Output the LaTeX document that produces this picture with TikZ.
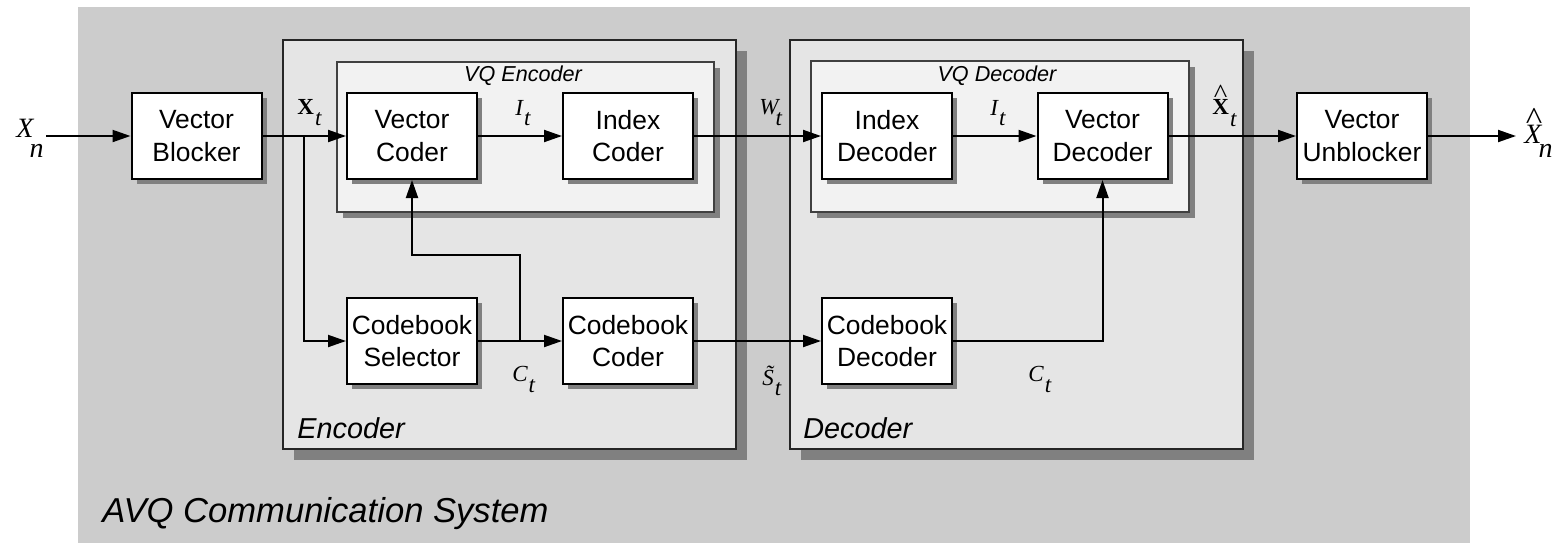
\documentclass[tikz,border=0pt]{standalone}
\usepackage{fontspec}
\usepackage{graphicx}
\setmainfont{Liberation Serif}
\setsansfont{Liberation Sans}
\usetikzlibrary{arrows.meta,shadows}

\definecolor{bgsys}{HTML}{CCCCCC}
\definecolor{bgpart}{HTML}{E5E5E5}
\definecolor{bgvq}{HTML}{F2F2F2}
\definecolor{shade}{HTML}{808080}

% symbol with a lowered subscript of full size; optional kern before the subscript
\newcommand{\symsub}[4][0.5pt]{#2\kern#1\raisebox{-#4}{\normalfont\itshape #3}}
% tall hat centred over a letter; optional horizontal shift of the hat
\newcommand{\tallhat}[2][0pt]{\ooalign{#2\cr\hidewidth\kern#1\raisebox{0.5em}{\scalebox{1.25}[1.15]{\normalfont\textasciicircum}}\hidewidth\cr}}

\tikzset{
  blockbox/.style={draw=black, line width=1pt, fill=white,
    minimum width=65pt, minimum height=43pt, inner sep=0pt, align=center,
    font=\sffamily\fontsize{13.2}{16.2}\selectfont,
    drop shadow={shadow xshift=2.5pt, shadow yshift=-2.5pt, fill=shade, opacity=1}},
  partbox/.style={draw=black!85, line width=0.6pt, fill=bgpart, inner sep=0pt,
    drop shadow={shadow xshift=5.5pt, shadow yshift=-5.5pt, fill=shade, opacity=1}},
  vqbox/.style={draw=black!75, line width=0.6pt, fill=bgvq, inner sep=0pt,
    drop shadow={shadow xshift=3pt, shadow yshift=-3pt, fill=shade, opacity=1}},
  wire/.style={line width=1pt, -{Triangle[length=9pt,width=6pt]}},
  sig/.style={inner sep=0pt, anchor=base west, font=\fontsize{11.5}{12}\selectfont},
  bigsig/.style={inner sep=0pt, anchor=base west, font=\fontsize{14}{15}\selectfont},
  vqtitle/.style={inner sep=0pt, font=\sffamily\itshape\fontsize{10.8}{12}\selectfont},
  parttitle/.style={inner sep=0pt, anchor=base west, font=\sffamily\itshape\fontsize{14.4}{16}\selectfont},
}

\begin{document}
\begin{tikzpicture}[x=0.5pt, y=-0.5pt]
\useasboundingbox (0,0) rectangle (1558,543);

% overall system area
\fill[bgsys] (78,7) rectangle (1470,543);
\node[inner sep=0pt, anchor=base west, font=\sffamily\itshape\fontsize{17.3}{19}\selectfont]
  (systitle) at (102,522) {AVQ Communication System};

% encoder and decoder parts
\node[partbox, minimum width=226.5pt, minimum height=204.5pt] (encpart) at (509.5,244.5) {};
\node[partbox, minimum width=226.5pt, minimum height=204.5pt] (decpart) at (1016.5,244.5) {};
\node[parttitle] (enctitle) at (297,438) {Encoder};
\node[parttitle] (dectitle) at (803,438) {Decoder};

% VQ sub-blocks
\node[vqbox, minimum width=188.5pt, minimum height=75pt] (vqenc) at (525.5,137) {};
\node[vqbox, minimum width=189pt, minimum height=75.5pt] (vqdec) at (1000,136.5) {};
\node[vqtitle] (vqenctitle) at (523,76) {VQ Encoder};
\node[vqtitle] (vqdectitle) at (997,76) {VQ Decoder};

% processing blocks
\node[blockbox] (blocker) at (196.5,136) {Vector\\Blocker};
\node[blockbox] (vcoder) at (412,136) {Vector\\Coder};
\node[blockbox] (icoder) at (628,136) {Index\\Coder};
\node[blockbox] (idecoder) at (887,136) {Index\\Decoder};
\node[blockbox] (vdecoder) at (1102.5,136) {Vector\\Decoder};
\node[blockbox] (unblocker) at (1362,136) {Vector\\Unblocker};
\node[blockbox] (selector) at (412,341) {Codebook\\Selector};
\node[blockbox] (cbcoder) at (628,341) {Codebook\\Coder};
\node[blockbox] (cbdecoder) at (887,341) {Codebook\\Decoder};

% free ends and junctions
\coordinate (src) at (46,136);
\coordinate (dst) at (1516,136);
\coordinate (split) at (304,136);
\coordinate (tap) at (520,341);

% signal flow
\draw[wire] (src) -- (blocker.west);
\draw[wire] (blocker.east) -- (vcoder.west);
\draw[wire] (split) |- (selector.west);
\draw[wire] (vcoder.east) -- (icoder.west);
\draw[wire] (icoder.east) -- (idecoder.west);
\draw[wire] (idecoder.east) -- (vdecoder.west);
\draw[wire] (vdecoder.east) -- (unblocker.west);
\draw[wire] (unblocker.east) -- (dst);
\draw[wire] (selector.east) -- (cbcoder.west);
\draw[wire] (tap) -- (520,255) -| (vcoder.south);
\draw[wire] (cbcoder.east) -- (cbdecoder.west);
\draw[wire] (cbdecoder.east) -| (vdecoder.south);

% signal labels
\node[bigsig] (lxn) at (16,137) {\symsub[-2pt]{\itshape X}{n}{10pt}};
\node[sig] (lxt) at (297,114) {\symsub{\bfseries X}{t}{5.5pt}};
\node[sig] (lit1) at (515,115) {\symsub{\itshape I}{t}{5pt}};
\node[sig] (lwt) at (759,114) {\symsub[-1.5pt]{\itshape W}{t}{5.5pt}};
\node[sig] (lit2) at (990,115) {\symsub{\itshape I}{t}{5pt}};
\node[sig] (lxht) at (1212,114) {\symsub{\tallhat{\bfseries X}}{t}{6pt}};
\node[bigsig] (lxhn) at (1524,143) {\symsub[-1.5pt]{\tallhat[1pt]{\itshape X}}{n}{7pt}};
\node[sig] (lct1) at (512,381) {\symsub{\itshape C}{t}{5.5pt}};
\node[sig] (lst) at (762,385) {\symsub{\itshape\~{S}}{t}{5pt}};
\node[sig] (lct2) at (1028,381) {\symsub{\itshape C}{t}{5.5pt}};
\end{tikzpicture}
\end{document}
